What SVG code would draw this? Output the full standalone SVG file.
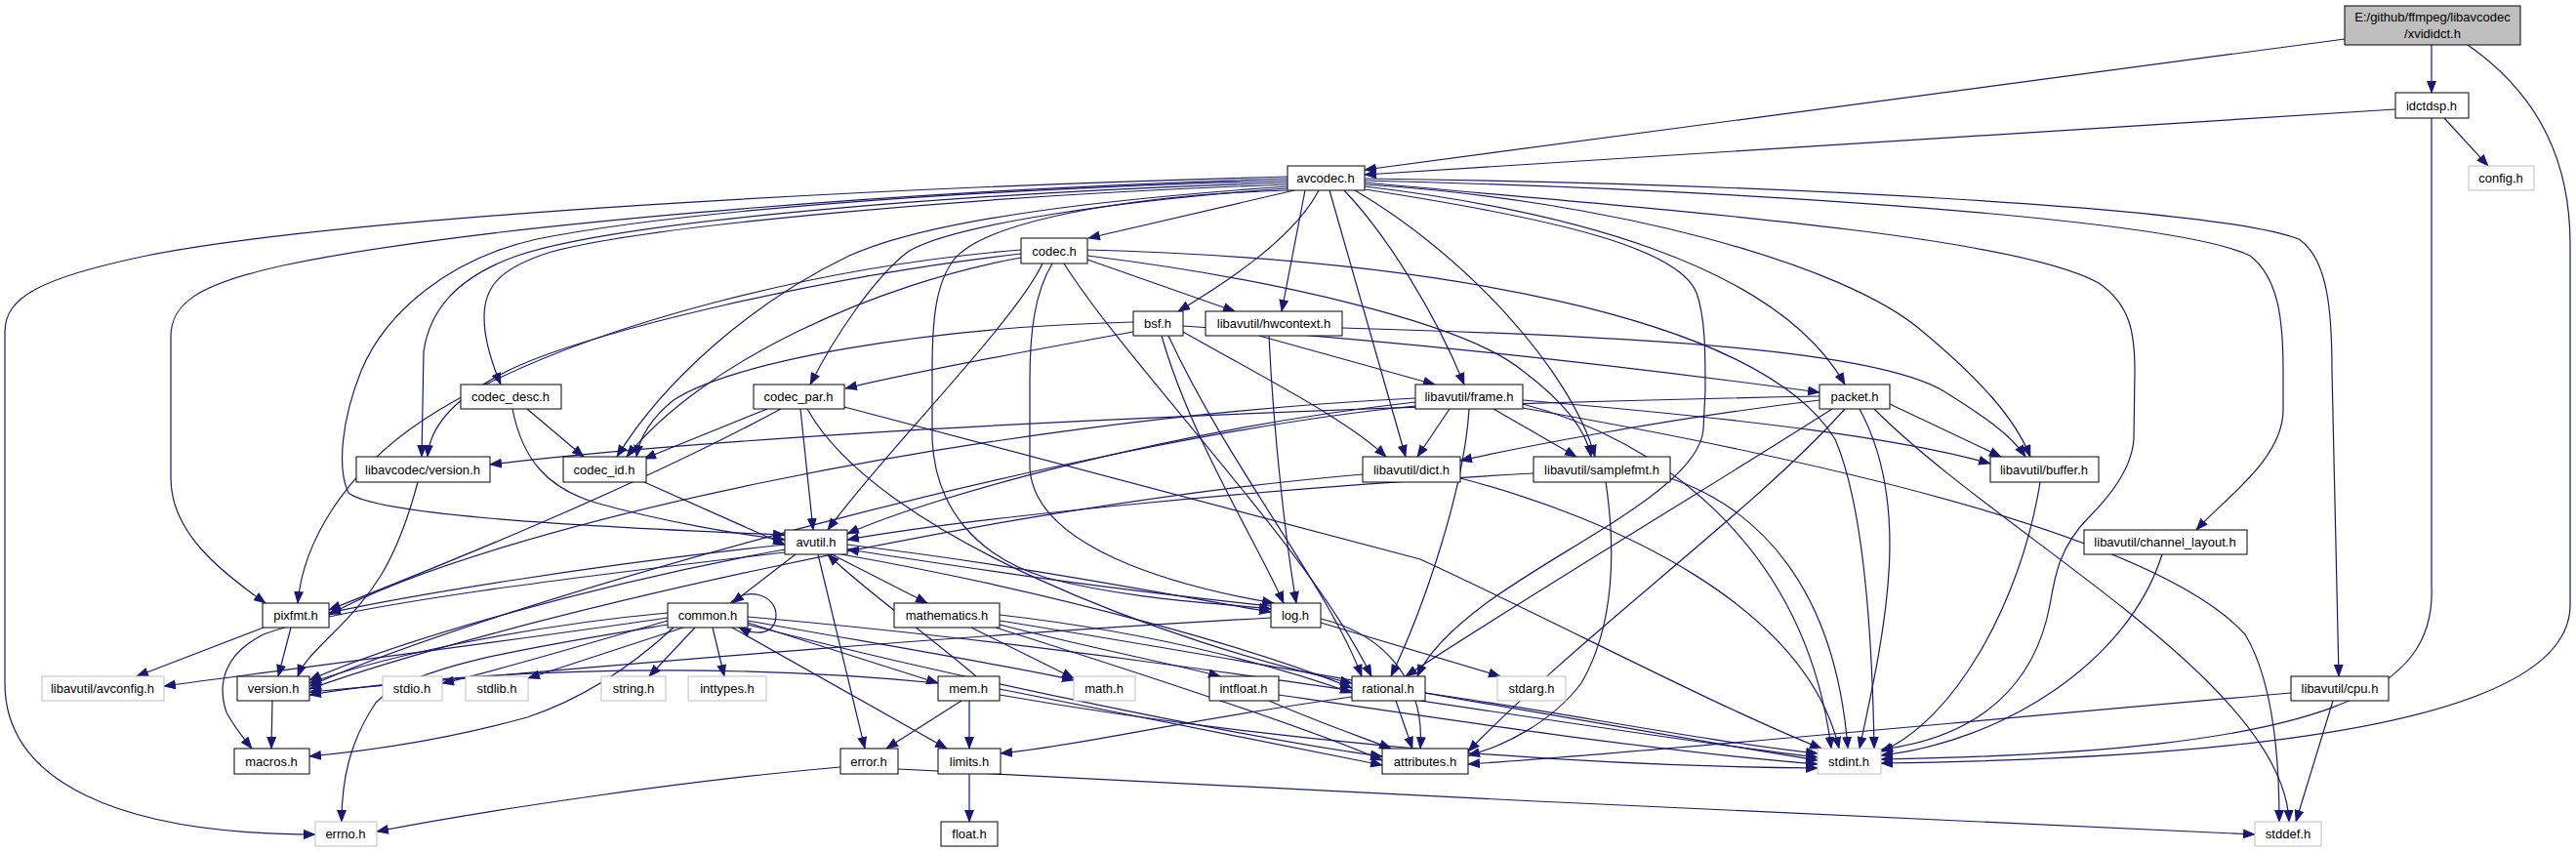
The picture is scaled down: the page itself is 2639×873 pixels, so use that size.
<svg xmlns="http://www.w3.org/2000/svg" width="2639" height="873" viewBox="0 0 2639 873">
<style>
.n rect{fill:#fff;stroke:#000;stroke-width:1}
.n.u rect{stroke:#bfbfbf}
.n.r rect{fill:#bfbfbf}
text{font-family:"Liberation Sans",Arial,sans-serif;font-size:13px;fill:#000;text-anchor:middle}
#edges path{fill:none;stroke:#191970;stroke-width:1.2;marker-end:url(#a)}
</style>
<defs><marker id="a" markerUnits="userSpaceOnUse" markerWidth="13" markerHeight="10" refX="12" refY="5" orient="auto"><path d="M0,0L13,5L0,10z" fill="#191970"/></marker></defs>
<rect width="2639" height="873" fill="#fff"/>
<g id="edges">
<path d="M2402,40 L1398,174"/>
<path d="M2491,46 L2491,95"/>
<path d="M2528,46 C2605,100 2633,170 2633,250 L2633,620 C2633,710 2450,775 1927,782"/>
<path d="M2454,112 L1398,179"/>
<path d="M2504,121 L2549,170"/>
<path d="M2491,121 L2491,600 C2496,705 2400,770 1927,778"/>
<path d="M1319,181 C900,192 350,222 150,262 C40,285 5,305 5,340 L5,700 C5,800 120,855 323,855"/>
<path d="M1319,183 C900,196 480,232 290,272 C200,292 175,312 175,345 L175,490 C175,545 225,585 272,618"/>
<path d="M1319,185 C1000,194 700,215 550,245 C460,265 395,320 370,380 C350,430 345,480 357,505 C385,528 600,540 804,548"/>
<path d="M1319,187 C1000,197 640,225 530,262 C465,285 440,320 434,360 L432,468"/>
<path d="M1319,189 C1000,200 660,232 565,258 C510,275 496,295 496,325 C496,350 505,375 513,394"/>
<path d="M1319,191 C1150,203 960,222 870,262 C770,310 680,390 632,468"/>
<path d="M1319,193 C1150,205 975,230 930,258 C895,285 855,345 830,394"/>
<path d="M1319,195 C1150,200 1010,228 978,265 C958,290 955,330 955,380 L955,450 C958,520 1000,570 1072,592 C1160,615 1250,618 1302,624"/>
<path d="M1326,195 L1115,244"/>
<path d="M1351,195 C1325,245 1255,290 1207,319"/>
<path d="M1337,195 L1313,319"/>
<path d="M1362,195 L1440,468"/>
<path d="M1377,195 C1420,240 1470,320 1500,394"/>
<path d="M1388,195 C1500,260 1610,380 1634,468"/>
<path d="M1398,194 C1600,225 1720,255 1738,300 C1747,325 1747,360 1747,400 L1745,440 C1740,500 1600,560 1520,620 C1480,650 1460,675 1452,693"/>
<path d="M1398,191 C1600,215 1820,270 1890,394"/>
<path d="M1398,189 C1650,205 1890,270 1970,340 C2030,390 2065,430 2080,468"/>
<path d="M1398,187 C1700,215 2060,240 2150,290 C2182,312 2187,340 2187,380 L2186,450 C2184,480 2160,510 2140,530 C2110,560 2105,590 2100,620 C2085,700 2030,755 1927,768"/>
<path d="M1398,185 C1800,195 2230,225 2305,262 C2335,285 2339,330 2339,380 L2339,420 C2339,470 2280,510 2250,543"/>
<path d="M1398,183 C1800,188 2270,212 2355,245 C2385,265 2389,320 2389,380 L2396,693"/>
<path d="M1046,256 C850,272 600,330 450,420 C350,480 310,560 305,618"/>
<path d="M1046,260 C850,282 600,340 520,380 C460,410 440,440 438,468"/>
<path d="M1046,264 C900,290 720,370 642,468"/>
<path d="M1068,270 C1040,330 900,470 848,543"/>
<path d="M1078,270 C1060,300 1055,340 1055,390 L1055,480 C1060,560 1200,600 1305,618"/>
<path d="M1090,270 C1160,380 1340,560 1405,693"/>
<path d="M1114,266 L1265,319"/>
<path d="M1114,262 C1300,285 1500,330 1560,380 C1600,410 1625,440 1630,468"/>
<path d="M1114,256 C1450,265 1800,320 1880,450 C1910,520 1918,650 1920,767"/>
<path d="M1161,340 C1050,360 920,385 866,398"/>
<path d="M1161,330 C950,335 750,370 690,410 C665,430 655,450 652,468"/>
<path d="M1190,344 C1220,450 1290,560 1315,618"/>
<path d="M1197,344 C1260,480 1360,600 1395,693"/>
<path d="M1212,340 C1300,390 1380,430 1420,468"/>
<path d="M1212,334 C1450,350 1700,380 1864,402"/>
<path d="M1290,344 L1470,394"/>
<path d="M1300,344 C1305,450 1318,560 1328,618"/>
<path d="M1375,336 C1700,345 1920,360 1990,400 C2030,425 2060,445 2075,468"/>
<path d="M540,419 L598,468"/>
<path d="M525,419 C535,470 560,500 610,515 C680,535 760,548 804,553"/>
<path d="M786,419 L660,470"/>
<path d="M800,419 C650,500 450,580 337,625"/>
<path d="M820,419 L833,543"/>
<path d="M827,419 C900,550 1200,660 1385,700"/>
<path d="M865,417 L1455,573 C1600,640 1750,720 1866,767"/>
<path d="M660,494 L804,558"/>
<path d="M428,494 C405,580 380,610 340,650 C320,670 310,680 305,693"/>
<path d="M1450,412 C1200,440 950,510 868,547"/>
<path d="M1450,408 C1000,430 500,540 337,630"/>
<path d="M1450,416 C1100,450 500,620 317,703"/>
<path d="M1485,419 L1452,468"/>
<path d="M1530,419 L1615,468"/>
<path d="M1505,419 C1500,500 1460,620 1425,693"/>
<path d="M1560,410 C1800,430 1950,450 2039,475"/>
<path d="M1560,414 C1700,450 1850,560 1876,767"/>
<path d="M1560,418 C1800,460 2200,540 2300,650 C2330,700 2335,780 2335,842"/>
<path d="M1864,406 C1400,415 800,440 502,476"/>
<path d="M1864,410 C1700,430 1550,460 1496,472"/>
<path d="M1877,419 C1750,500 1550,620 1440,693"/>
<path d="M1890,419 C1800,520 1620,650 1504,770"/>
<path d="M1905,419 C1960,520 1930,650 1905,767"/>
<path d="M1936,414 L2050,468"/>
<path d="M1920,419 C2050,550 2340,700 2345,842"/>
<path d="M1396,486 C1000,520 500,640 317,706"/>
<path d="M1496,490 C1650,530 1850,620 1884,767"/>
<path d="M1571,485 C1300,500 1000,530 868,553"/>
<path d="M1645,494 C1655,560 1655,640 1620,700 C1590,740 1540,765 1504,774"/>
<path d="M1711,490 C1800,520 1880,600 1893,767"/>
<path d="M2090,494 C2070,620 2000,740 1927,770"/>
<path d="M2215,568 C2180,680 2050,760 1927,774"/>
<path d="M2347,710 C2000,740 1700,770 1504,783"/>
<path d="M2390,718 L2352,842"/>
<path d="M815,568 L750,618"/>
<path d="M838,568 L886,767"/>
<path d="M804,563 C600,600 400,660 317,697"/>
<path d="M862,568 C1100,610 1300,670 1385,705"/>
<path d="M852,568 L950,618"/>
<path d="M868,558 C1050,580 1200,610 1302,627"/>
<path d="M804,558 C600,580 420,610 337,628"/>
<path d="M804,566 C600,590 350,620 270,650 C230,670 222,700 232,730 C240,745 250,757 258,767"/>
<path d="M1302,621 C1100,600 950,575 868,563"/>
<path d="M1353,638 L1537,693"/>
<path d="M1353,634 C1420,650 1460,700 1455,767"/>
<path d="M1302,633 C1000,650 700,675 317,709"/>
<path d="M270,643 L140,693"/>
<path d="M298,643 L285,693"/>
<path d="M279,718 L278,767"/>
<path d="M684,640 C550,662 420,682 385,720 C358,760 350,800 350,842"/>
<path d="M730,643 L742,693"/>
<path d="M750,643 L970,767"/>
<path d="M766,636 C900,660 1050,685 1100,697"/>
<path d="M766,632 C1200,670 1600,745 1862,776"/>
<path d="M684,636 C600,660 500,690 453,700"/>
<path d="M700,643 L541,695"/>
<path d="M712,643 L665,693"/>
<path d="M766,640 C1000,700 1300,760 1416,775"/>
<path d="M690,643 C650,680 600,715 540,735 C450,760 370,770 317,775"/>
<path d="M684,628 C550,640 400,670 317,700"/>
<path d="M684,633 C500,660 300,685 168,703"/>
<path d="M766,638 L961,700"/>
<path d="M748,618 C765,600 795,610 795,630 C795,650 775,652 757,643"/>
<path d="M995,643 L1100,695"/>
<path d="M1024,630 C1200,650 1330,690 1385,710"/>
<path d="M1024,640 C1100,660 1200,680 1250,693"/>
<path d="M1020,643 C1200,700 1350,750 1416,779"/>
<path d="M1024,636 C1300,680 1650,745 1862,779"/>
<path d="M1000,693 C950,650 880,600 848,568"/>
<path d="M985,718 L908,767"/>
<path d="M993,718 L993,767"/>
<path d="M1024,706 C1200,740 1350,770 1416,784"/>
<path d="M1024,712 C1300,760 1600,785 1862,787"/>
<path d="M961,700 C700,675 450,690 317,712"/>
<path d="M861,786 C700,800 500,830 386,852"/>
<path d="M920,788 C1300,810 2000,840 2310,855"/>
<path d="M993,793 L993,842"/>
<path d="M1460,710 C1600,730 1750,760 1862,772"/>
<path d="M1385,714 C1200,740 1100,765 1025,772"/>
<path d="M1430,718 L1447,767"/>
<path d="M1300,718 C1350,740 1400,757 1425,767"/>
<path d="M1310,712 C1500,740 1700,770 1862,783"/>
</g>
<g id="xvididct" class="n r"><rect x="2402" y="6" width="180" height="40"/><text x="2492" y="22">E:/github/ffmpeg/libavcodec</text><text x="2492" y="39">/xvididct.h</text></g>
<g id="idctdsp" class="n"><rect x="2454" y="95" width="75" height="26"/><text x="2491" y="113">idctdsp.h</text></g>
<g id="config" class="n u"><rect x="2529" y="170" width="67" height="25"/><text x="2562" y="187">config.h</text></g>
<g id="avcodec" class="n"><rect x="1319" y="170" width="79" height="25"/><text x="1358" y="187">avcodec.h</text></g>
<g id="codec" class="n"><rect x="1046" y="244" width="68" height="26"/><text x="1080" y="262">codec.h</text></g>
<g id="bsf" class="n"><rect x="1161" y="319" width="51" height="25"/><text x="1186" y="336">bsf.h</text></g>
<g id="hwcontext" class="n"><rect x="1235" y="319" width="140" height="25"/><text x="1305" y="336">libavutil/hwcontext.h</text></g>
<g id="codec_desc" class="n"><rect x="472" y="394" width="103" height="25"/><text x="523" y="411">codec_desc.h</text></g>
<g id="codec_par" class="n"><rect x="772" y="394" width="93" height="25"/><text x="818" y="411">codec_par.h</text></g>
<g id="frame" class="n"><rect x="1450" y="394" width="110" height="25"/><text x="1505" y="411">libavutil/frame.h</text></g>
<g id="packet" class="n"><rect x="1864" y="394" width="72" height="25"/><text x="1900" y="411">packet.h</text></g>
<g id="lavc_version" class="n"><rect x="365" y="468" width="137" height="26"/><text x="433" y="486">libavcodec/version.h</text></g>
<g id="codec_id" class="n"><rect x="577" y="468" width="85" height="26"/><text x="619" y="486">codec_id.h</text></g>
<g id="dict" class="n"><rect x="1396" y="468" width="100" height="26"/><text x="1446" y="486">libavutil/dict.h</text></g>
<g id="samplefmt" class="n"><rect x="1571" y="468" width="140" height="26"/><text x="1641" y="486">libavutil/samplefmt.h</text></g>
<g id="buffer" class="n"><rect x="2039" y="468" width="111" height="26"/><text x="2094" y="486">libavutil/buffer.h</text></g>
<g id="avutil" class="n"><rect x="804" y="543" width="64" height="25"/><text x="836" y="560">avutil.h</text></g>
<g id="channel_layout" class="n"><rect x="2135" y="543" width="167" height="25"/><text x="2218" y="560">libavutil/channel_layout.h</text></g>
<g id="pixfmt" class="n"><rect x="269" y="618" width="68" height="25"/><text x="303" y="635">pixfmt.h</text></g>
<g id="common" class="n"><rect x="684" y="618" width="82" height="25"/><text x="725" y="635">common.h</text></g>
<g id="mathematics" class="n"><rect x="916" y="618" width="108" height="25"/><text x="970" y="635">mathematics.h</text></g>
<g id="log" class="n"><rect x="1302" y="618" width="51" height="25"/><text x="1327" y="635">log.h</text></g>
<g id="avconfig" class="n u"><rect x="43" y="693" width="125" height="25"/><text x="105" y="710">libavutil/avconfig.h</text></g>
<g id="version" class="n"><rect x="243" y="693" width="74" height="25"/><text x="280" y="710">version.h</text></g>
<g id="stdio" class="n u"><rect x="392" y="693" width="61" height="25"/><text x="422" y="710">stdio.h</text></g>
<g id="stdlib" class="n u"><rect x="477" y="693" width="64" height="25"/><text x="509" y="710">stdlib.h</text></g>
<g id="string" class="n u"><rect x="616" y="693" width="66" height="25"/><text x="649" y="710">string.h</text></g>
<g id="inttypes" class="n u"><rect x="705" y="693" width="80" height="25"/><text x="745" y="710">inttypes.h</text></g>
<g id="mem" class="n"><rect x="961" y="693" width="63" height="25"/><text x="992" y="710">mem.h</text></g>
<g id="math" class="n u"><rect x="1100" y="693" width="63" height="25"/><text x="1131" y="710">math.h</text></g>
<g id="intfloat" class="n"><rect x="1239" y="693" width="71" height="25"/><text x="1274" y="710">intfloat.h</text></g>
<g id="rational" class="n"><rect x="1385" y="693" width="75" height="25"/><text x="1422" y="710">rational.h</text></g>
<g id="stdarg" class="n u"><rect x="1534" y="693" width="70" height="25"/><text x="1569" y="710">stdarg.h</text></g>
<g id="cpu" class="n"><rect x="2347" y="693" width="100" height="25"/><text x="2397" y="710">libavutil/cpu.h</text></g>
<g id="macros" class="n"><rect x="240" y="767" width="77" height="26"/><text x="278" y="785">macros.h</text></g>
<g id="error" class="n"><rect x="861" y="767" width="59" height="26"/><text x="890" y="785">error.h</text></g>
<g id="limits" class="n"><rect x="961" y="767" width="64" height="26"/><text x="993" y="785">limits.h</text></g>
<g id="attributes" class="n"><rect x="1416" y="767" width="88" height="26"/><text x="1460" y="785">attributes.h</text></g>
<g id="stdint" class="n u"><rect x="1862" y="767" width="65" height="26"/><text x="1894" y="785">stdint.h</text></g>
<g id="errno" class="n u"><rect x="323" y="842" width="63" height="25"/><text x="354" y="859">errno.h</text></g>
<g id="float" class="n"><rect x="964" y="842" width="58" height="25"/><text x="993" y="859">float.h</text></g>
<g id="stddef" class="n u"><rect x="2310" y="842" width="68" height="25"/><text x="2344" y="859">stddef.h</text></g>
</svg>
